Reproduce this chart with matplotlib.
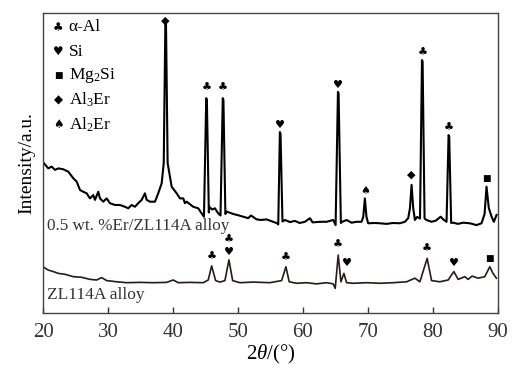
import matplotlib
matplotlib.use("Agg")
import matplotlib.pyplot as plt

plt.rcParams['font.family'] = ['Liberation Serif', 'DejaVu Sans']
plt.rcParams['mathtext.fontset'] = 'custom'
plt.rcParams['mathtext.rm'] = 'Liberation Serif'
plt.rcParams['mathtext.it'] = 'Liberation Serif:italic'

# 0.5 wt.% Er / ZL114A pattern (2theta, intensity a.u.)
er_2theta = [20.09, 20.76, 21.27, 21.79, 22.30, 23.07, 23.84, 24.61, 25.13, 25.64,
             26.15, 26.67, 27.18, 27.69, 27.95, 28.46, 28.72, 29.23, 29.75, 30.26,
             31.03, 31.80, 32.57, 33.08, 33.60, 34.11, 34.62, 35.15, 35.65, 35.92,
             36.43, 37.20, 37.70, 38.23, 38.55, 38.80, 38.90, 39.15, 39.77, 40.54, 41.05,
             41.56, 41.82, 42.08, 43.10, 43.87, 44.39, 44.75, 45.10, 45.20, 45.50, 45.56,
             46.00, 46.44, 46.95, 47.30, 47.65, 47.75, 48.05, 48.24, 49.26, 50.00, 50.80,
             51.57, 52.00, 52.86, 53.60, 54.40, 55.42, 56.04, 56.20, 56.45, 56.55, 56.85,
             57.23, 58.00, 58.77, 59.50, 60.31, 61.08, 61.50, 62.60, 63.65, 64.67,
             65.04, 65.40, 65.50, 65.85, 66.06, 66.73, 67.50, 68.27, 69.04, 69.30, 69.55,
             69.80, 70.06, 71.00, 71.87, 72.90, 73.90, 74.95, 75.72, 76.23, 76.50,
             76.75, 77.00, 77.26, 77.60, 78.05, 78.35, 78.45, 78.75, 79.06, 79.83, 80.50,
             81.23, 81.63, 82.14, 82.45, 82.55, 82.85, 83.16, 83.90, 84.70, 85.73, 86.76,
             87.53, 88.00, 88.30, 88.65, 89.08, 89.43, 89.85]
er_int = [49.9, 48.2, 48.8, 47.7, 48.2, 47.9, 47.1, 44.9, 43.8, 41.0,
          40.4, 39.9, 38.2, 39.3, 37.7, 40.4, 38.2, 37.1, 38.2, 36.6,
          36.0, 36.0, 35.4, 34.9, 36.0, 35.4, 36.6, 37.7, 39.9, 37.7,
          37.1, 37.1, 39.9, 43.2, 50.0, 96.7, 96.0, 50.0, 42.1, 39.9, 38.2,
          38.2, 36.6, 37.1, 35.4, 34.9, 33.2, 32.1, 71.6, 71.0, 33.5, 35.4,
          34.5, 34.9, 33.2, 32.5, 71.6, 71.0, 33.0, 33.8, 33.0, 32.6, 32.1,
          31.6, 32.5, 31.2, 31.0, 31.2, 30.4, 29.9, 29.5, 60.3, 59.8, 30.5,
          31.0, 30.3, 30.7, 30.0, 30.4, 31.6, 30.2, 30.4, 30.4, 31.0,
          29.3, 73.7, 73.2, 30.0, 30.4, 31.0, 30.1, 30.4, 30.4, 32.0, 38.2,
          32.0, 29.9, 30.0, 29.9, 29.7, 30.0, 29.9, 30.4, 31.6, 35.0,
          42.7, 35.0, 31.0, 32.0, 31.5, 84.3, 83.8, 31.5, 31.0, 30.4, 30.8,
          32.1, 31.2, 30.4, 59.3, 58.8, 30.0, 30.1, 29.7, 30.1, 29.9, 29.3,
          29.9, 33.0, 42.1, 35.0, 32.1, 30.4, 32.7]

# ZL114A pattern
base_2theta = [20.09, 20.76, 21.53, 22.30, 23.33, 24.61, 25.90, 27.18, 28.20, 28.98,
               29.75, 31.30, 32.83, 34.88, 36.93, 38.99, 40.01, 40.78, 42.59, 44.64,
               45.41, 45.93, 46.55, 47.21, 47.98, 48.60, 49.17, 50.29, 52.34, 54.92,
               55.69, 56.72, 57.38, 57.89, 59.03, 60.57, 62.11, 63.65, 64.67, 64.98,
               65.44, 65.86, 66.32, 66.73, 67.76, 69.82, 71.87, 73.92, 75.98, 77.26,
               78.03, 79.15, 79.83, 81.10, 82.39, 83.26, 83.93, 84.95, 85.46, 86.08,
               87.00, 88.03, 88.80, 89.30, 89.82]
base_int = [15.2, 14.3, 13.8, 13.2, 12.9, 12.1, 11.9, 11.2, 11.0, 11.8,
            10.8, 10.4, 10.1, 10.2, 10.1, 10.2, 11.0, 10.1, 10.2, 10.1,
            11.0, 15.7, 10.8, 10.3, 10.8, 17.7, 10.8, 10.1, 10.3, 10.1,
            10.4, 10.8, 15.4, 10.4, 9.9, 10.1, 9.7, 10.1, 9.7, 8.2,
            19.3, 10.4, 13.2, 10.1, 9.9, 10.1, 9.9, 10.1, 10.4, 11.6,
            10.4, 18.2, 10.8, 10.4, 11.0, 13.8, 11.2, 12.1, 11.2, 12.3,
            11.6, 12.1, 15.4, 13.2, 11.6]

# phase symbols
CLUB, HEART, SQUARE, DIAMOND, SPADE = "\u2663", "\u2665", "\u25A0", "\u25C6", "\u2660"

er_marks = [(DIAMOND, 38.85, 97.4), (CLUB, 45.15, 74.9), (CLUB, 47.7, 75.0),
            (HEART, 56.5, 62.7), (HEART, 65.45, 76.0), (SPADE, 69.55, 40.8),
            (DIAMOND, 76.75, 46.0), (CLUB, 78.4, 86.7), (CLUB, 82.5, 61.7),
            (SQUARE, 88.3, 44.7)]
base_marks = [(CLUB, 45.93, 18.8), (HEART, 48.6, 20.2), (CLUB, 48.6, 24.3),
              (CLUB, 57.38, 18.2), (CLUB, 65.44, 22.7), (HEART, 66.8, 16.8),
              (CLUB, 79.15, 21.2), (HEART, 83.3, 16.8), (SQUARE, 88.8, 18.0)]

legend_syms = [CLUB, HEART, SQUARE, DIAMOND, SPADE]
legend_names = ["\u03b1-Al", "Si", "Mg$_2$Si", "Al$_3$Er", "Al$_2$Er"]

fig = plt.figure(figsize=(5.14, 3.69), dpi=100)
ax = fig.add_axes([0.0844, 0.1518, 0.8836, 0.813])

ax.plot(er_2theta, er_int, color="black", lw=1.5)
ax.plot(base_2theta, base_int, color="#2a1a12", lw=1.2)

for sym, x, y in er_marks + base_marks:
    fs = 6.5 if sym == SQUARE else 8
    ax.text(x, y, sym, family="DejaVu Sans", fontsize=fs, ha="center", va="center")

leg_y = [95.3, 87.0, 79.0, 71.0, 62.7]
for sym, name, y in zip(legend_syms, legend_names, leg_y):
    fs = 6.5 if sym == SQUARE else 8.5
    ax.text(22.25, y, sym, family="DejaVu Sans", fontsize=fs, ha="center", va="center")
    ax.text(23.9, y, name, fontsize=12.5, ha="left", va="center")

ax.text(20.55, 29.0, "0.5 wt. %Er/ZL114A alloy", fontsize=12.3, ha="left", va="center", color="#333333")
ax.text(20.55, 6.0, "ZL114A alloy", fontsize=12.5, ha="left", va="center", color="#333333")

ax.set_xlim(20, 90)
ax.set_ylim(0, 100)
ax.set_xticks([20, 30, 40, 50, 60, 70, 80, 90])
ax.set_yticks([])
ax.tick_params(axis="x", direction="in", length=4, width=1, labelsize=15, pad=7, colors="#333333")
for s in ax.spines.values():
    s.set_color("#444444")
    s.set_linewidth(1.0)

ax.set_xlabel("2$\\theta$/(\u00b0)", fontsize=15, labelpad=1)
ax.set_ylabel("Intensity/a.u.", fontsize=14, labelpad=6)

fig.savefig("out.png", dpi=100)
